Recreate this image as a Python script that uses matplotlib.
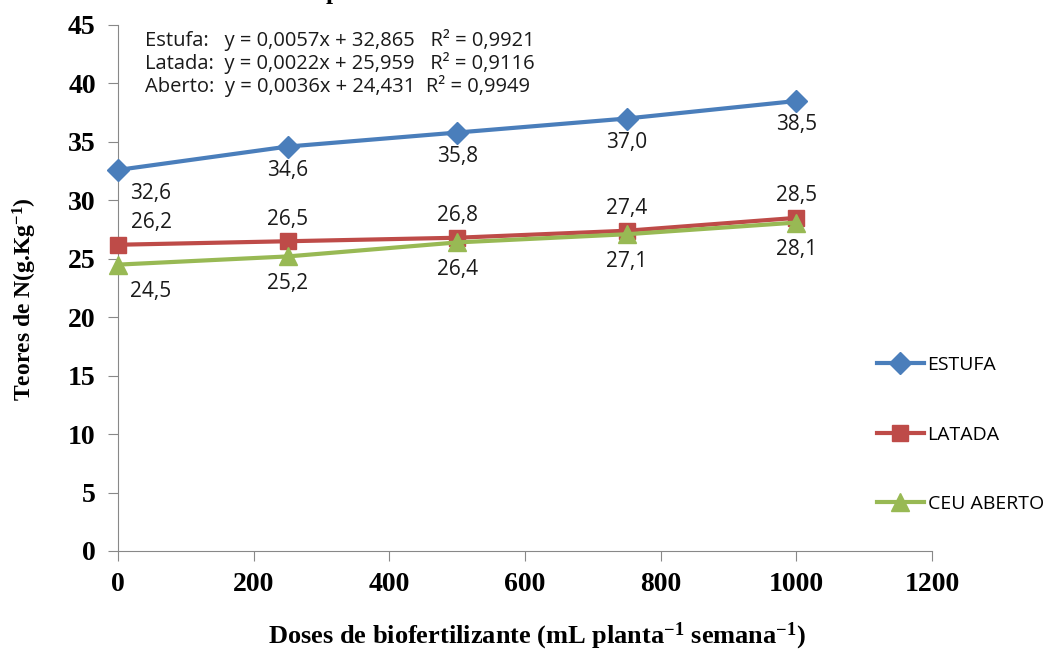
import matplotlib
matplotlib.use("Agg")
import matplotlib.pyplot as plt

plt.rcParams['mathtext.default'] = 'regular'

# data
doses = [0, 250, 500, 750, 1000]
estufa = [32.6, 34.6, 35.8, 37.0, 38.5]
latada = [26.2, 26.5, 26.8, 27.4, 28.5]
aberto = [24.5, 25.2, 26.4, 27.1, 28.1]
series_names = ["ESTUFA", "LATADA", "CEU ABERTO"]
equations = [
    "Estufa:   y = 0,0057x + 32,865   R² = 0,9921",
    "Latada:  y = 0,0022x + 25,959   R² = 0,9116",
    "Aberto:  y = 0,0036x + 24,431  R² = 0,9949",
]
x_ticks = [0, 200, 400, 600, 800, 1000, 1200]
y_ticks = [0, 5, 10, 15, 20, 25, 30, 35, 40, 45]

W, H = 1048, 651
fig = plt.figure(figsize=(W / 100, H / 100), dpi=100)
ax = fig.add_axes([118 / W, 1 - 551 / H, (932 - 118) / W, (551 - 25) / H])

serif = "Liberation Serif"
sans = "Open Sans"

styles = [
    (estufa, "#4A7EBB", "D", 11, -24),
    (latada, "#BE4B48", "s", 12, 22),
    (aberto, "#98B954", "^", 13, -27),
]
for (vals, color, marker, ms, dy), name in zip(styles, series_names):
    ax.plot(doses, vals, color=color, lw=3, marker=marker, ms=ms,
            label=name, clip_on=False, zorder=3)
    for i, (xv, yv) in enumerate(zip(doses, vals)):
        dx = 33 if i == 0 else 0
        ax.annotate(f"{yv:.1f}".replace(".", ","), (xv, yv),
                    xytext=(dx, dy), textcoords="offset pixels",
                    ha="center", va="center", fontsize=15,
                    family=sans, color="#1a1a1a")

ax.set_xlim(0, 1200)
ax.set_ylim(0, 45)
ax.set_xticks(x_ticks)
ax.set_yticks(y_ticks)
for s in ["top", "right"]:
    ax.spines[s].set_visible(False)
for s in ["left", "bottom"]:
    ax.spines[s].set_color("#888888")
ax.tick_params(axis="both", length=7, color="#888888", labelsize=20)
ax.tick_params(axis="y", pad=9)
ax.tick_params(axis="x", pad=8)
for lab in ax.get_xticklabels() + ax.get_yticklabels():
    lab.set_family(serif)
    lab.set_fontweight("bold")

for i, eq in enumerate(equations):
    fig.text(145 / W, 1 - (40 + 23 * i) / H, eq, ha="left", va="center",
             fontsize=14.5, family=sans, color="#1a1a1a")

fig.text(25 / W, 1 - 299 / H, "Teores de N(g.Kg$^{-1}$)", rotation=90,
         ha="center", va="center", fontsize=17, family=serif,
         fontweight="bold")
fig.text(537 / W, 1 - 636 / H,
         "Doses de biofertilizante (mL planta$^{-1}$ semana$^{-1}$)",
         ha="center", va="center", fontsize=19, family=serif,
         fontweight="bold")
# cut-off character at the very top of the original image
fig.text(333 / W, 1 + 1 / H, "p", ha="center", va="baseline",
         fontsize=18, family=serif, fontweight="bold")

fig.legend(loc="upper left", bbox_to_anchor=(877 / W, 1 - 356 / H),
           frameon=False, handlelength=2.4, handletextpad=0.2,
           labelspacing=2.65, borderpad=0, borderaxespad=0,
           prop={"family": sans, "size": 14})

fig.savefig("out.png", dpi=100)
